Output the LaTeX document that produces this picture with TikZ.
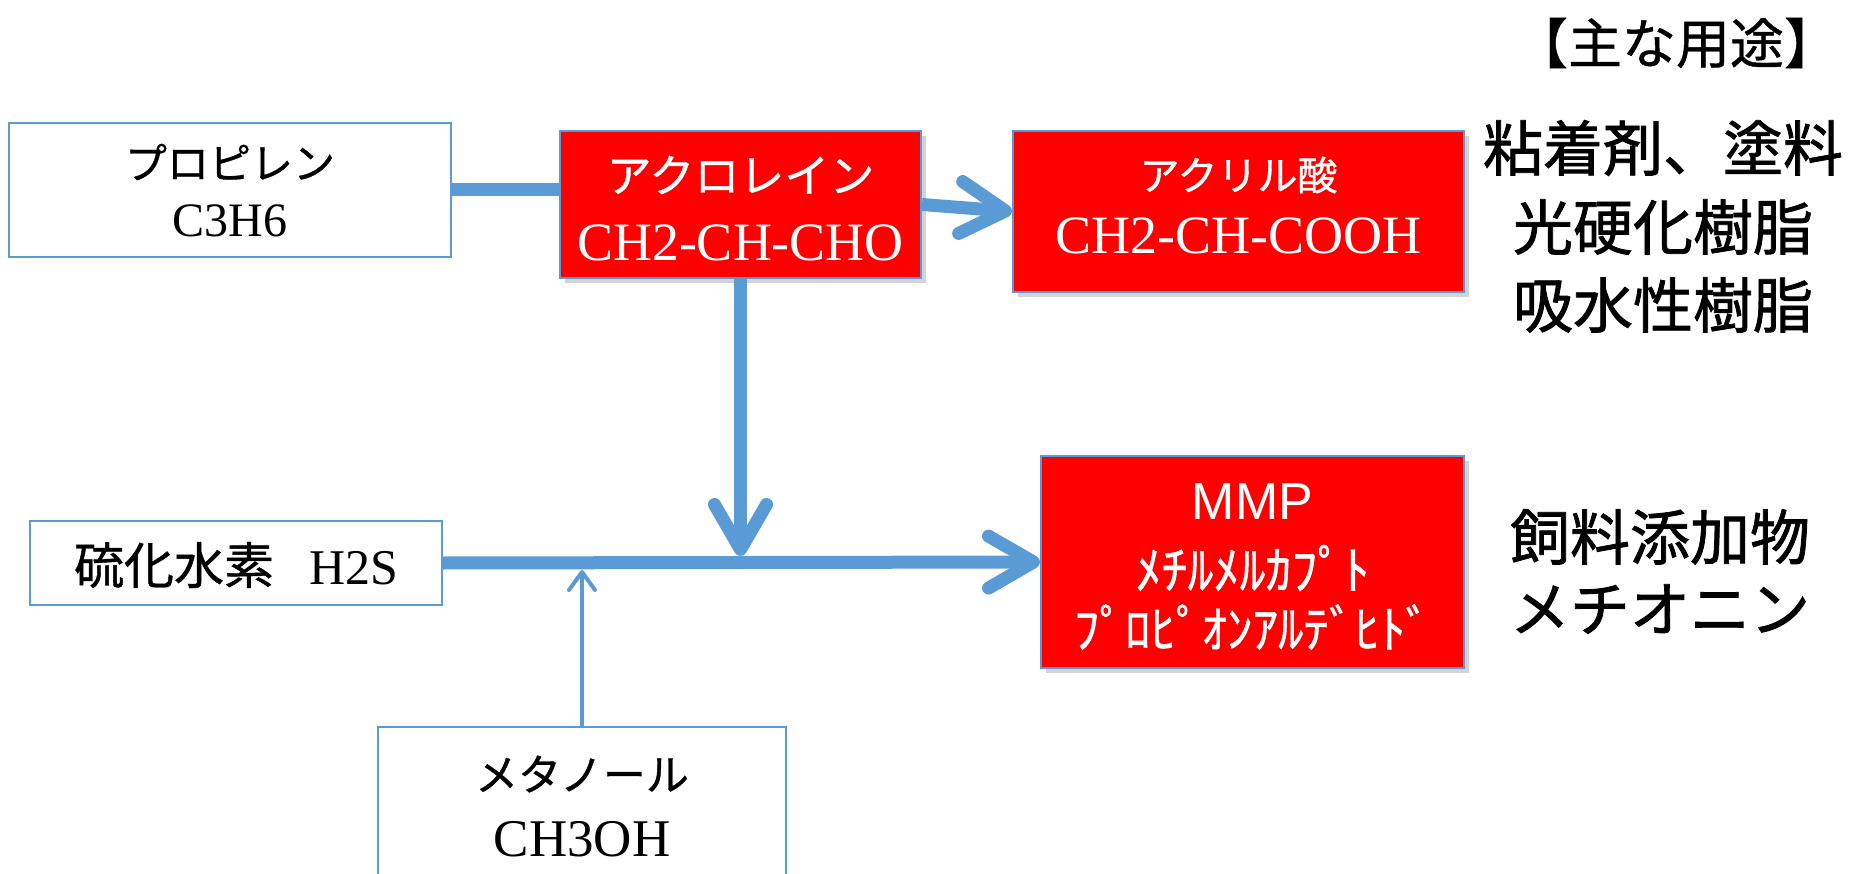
\documentclass[tikz,border=0pt]{standalone}
\usepackage{fontspec}
\setmainfont{Liberation Serif}
\newfontfamily\jp[FakeBold=0.8]{Noto Sans CJK JP}
\newfontfamily\jpb[FakeBold=1.3]{Noto Sans CJK JP}
\newfontfamily\arialf{Liberation Sans}
\usetikzlibrary{arrows.meta,shadows}
\definecolor{lblue}{RGB}{91,155,213}
\definecolor{bred}{RGB}{255,0,0}
\newcommand\fsz[1]{\fontsize{#1}{#1}\selectfont}
\begin{document}
\begin{tikzpicture}[x=1pt,y=-1pt,
  wbox/.style={draw=lblue,line width=2pt,fill=white,inner sep=0pt},
  rbox/.style={draw=lblue,line width=2pt,fill=bred,inner sep=0pt,
    drop shadow={shadow xshift=5pt,shadow yshift=-5pt,opacity=0.35}},
  txt/.style={inner sep=0pt,text=black},
  wtxt/.style={inner sep=0pt,text=white},
  thickline/.style={draw=lblue,line width=13pt},
  thickarrow/.style={thickline,-{Straight Barb[length=45pt,width=52pt,round]}},
  thinarrow/.style={draw=lblue,line width=4pt,-{Straight Barb[length=18pt,width=26pt,round]}},
]
\useasboundingbox (0,0) rectangle (1852,874);

% boxes
\node[wbox,minimum width=442pt,minimum height=134pt] (prop) at (230,190) {};
\node[rbox,minimum width=361pt,minimum height=147pt] (acro) at (740.5,204.5) {};
\node[rbox,minimum width=451pt,minimum height=161pt] (acry) at (1238.5,211.5) {};
\node[rbox,minimum width=423pt,minimum height=212pt] (mmp) at (1252.5,562) {};
\node[wbox,minimum width=412pt,minimum height=84pt] (h2s) at (236,563) {};
\node[wbox,minimum width=408pt,minimum height=173pt] (meth) at (582,813.5) {};

% box texts
\node[txt,font=\jp\fsz{42}] (prop1) at (230,162) {プロピレン};
\node[txt,font=\fsz{48}] (prop2) at (230,221) {C3H6};
\node[wtxt,font=\jp\fsz{45}] (acro1) at (740.5,175) {アクロレイン};
\node[wtxt,font=\fsz{54}] (acro2) at (740.5,243) {CH2-CH-CHO};
\node[wtxt,font=\jp\fsz{40}] (acry1) at (1238.5,175) {アクリル酸};
\node[wtxt,font=\fsz{54}] (acry2) at (1238.5,236) {CH2-CH-COOH};
\node[wtxt,font=\arialf\fsz{52}] (mmp1) at (1252.5,502) {MMP};
\node[wtxt,font=\jp\fsz{52}] (mmp2) at (1252.5,568) {ﾒﾁﾙﾒﾙｶﾌﾟﾄ};
\node[wtxt,font=\jp\fsz{51}] (mmp3) at (1252.5,627) {ﾌﾟﾛﾋﾟｵﾝｱﾙﾃﾞﾋﾄﾞ};
\node[txt,font=\fsz{50}] (h2s1) at (236,565) {{\jp 硫化水素}\hspace{35pt}H2S};
\node[txt,font=\jp\fsz{43}] (meth1) at (582,774) {メタノール};
\node[txt,font=\fsz{53}] (meth2) at (582,839) {CH3OH};

% uses
\node[txt,font=\jp\fsz{54}] (head) at (1676,43) {【主な用途】};
\node[txt,font=\jpb\fsz{60}] (u1) at (1663,148) {粘着剤、塗料};
\node[txt,font=\jpb\fsz{60}] (u2) at (1663,227) {光硬化樹脂};
\node[txt,font=\jpb\fsz{60}] (u3) at (1663,305) {吸水性樹脂};
\node[txt,font=\jpb\fsz{60}] (u4) at (1660,537) {飼料添加物};
\node[txt,font=\jpb\fsz{60}] (u5) at (1660,609) {メチオニン};

% connectors
\coordinate (j1) at (740.5,556);
\coordinate (j2) at (582,570);
\draw[thickline] (prop.east) -- (prop.east -| acro.west);
\draw[thickarrow] (acro.east) -- (acry.west);
\draw[thickarrow] (acro.south) -- (j1);
\draw[thickarrow] (h2s.east) -- (mmp.west);
\draw[thinarrow] (meth.north) -- (j2);
\end{tikzpicture}
\end{document}
